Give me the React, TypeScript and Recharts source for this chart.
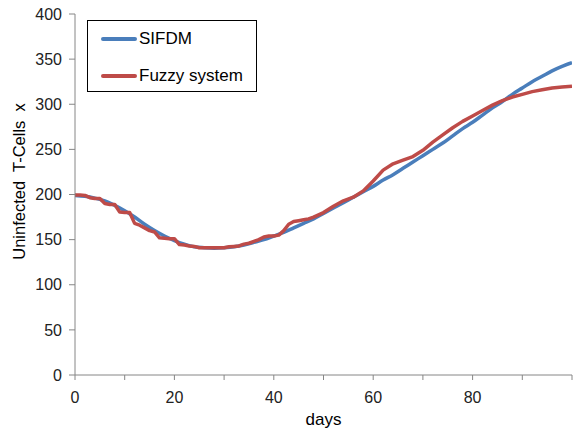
import React from 'react';
import { LineChart, Line, XAxis, YAxis, Legend } from 'recharts';

const sifdmDays = [0, 2, 4, 6, 8, 10, 12, 14, 16, 18, 20, 22, 24, 26, 28, 30, 32, 34, 36, 38, 40, 42, 44, 46, 48, 50, 52, 54, 56, 58, 60, 62, 64, 66, 68, 70, 72, 74, 76, 78, 80, 82, 84, 86, 88, 90, 92, 94, 96, 98, 100];
const sifdmValues = [199, 198, 196, 193, 188, 182, 175, 167, 160, 154, 149, 145, 142, 141, 140.5, 141, 142, 144, 147, 150, 154, 158, 163, 168, 173, 179, 185, 191, 197, 203, 209, 216, 222, 229, 236, 243, 250, 257, 265, 273, 280, 288, 296, 303, 311, 318, 325, 331, 337, 342, 346];

const fuzzyDays = [0, 1, 2, 3, 4, 5, 6, 7, 8, 9, 10, 11, 12, 13, 14, 15, 16, 17, 18, 19, 20, 21, 22, 23, 24, 25, 26, 27, 28, 29, 30, 31, 32, 33, 34, 35, 36, 37, 38, 39, 40, 41, 42, 43, 44, 45, 46, 47, 48, 50, 52, 54, 56, 58, 60, 62, 64, 66, 68, 70, 72, 74, 76, 78, 80, 82, 84, 86, 88, 90, 92, 94, 96, 98, 100];
const fuzzyValues = [199.5, 199.5, 199, 196.5, 195.5, 195.5, 190, 189, 189, 180.5, 180, 180, 168, 166, 163, 160, 158.5, 152, 151.5, 151, 151, 144.5, 144, 143, 142.5, 141, 141, 141, 141, 141, 141, 142, 142.5, 143, 145, 146, 148, 150, 153, 154, 154, 155, 160, 167, 170, 171, 172, 173, 175, 180, 187, 193, 197, 204, 215, 227, 234, 238, 242, 249, 258, 266, 274, 281, 287, 293, 299, 304, 308, 311, 314, 316, 318, 319, 320];

const xTicks = [0, 10, 20, 30, 40, 50, 60, 70, 80, 90, 100];
const xTickLabels = ['0', '', '20', '', '40', '', '60', '', '80', '', ''];
const yTicks = [0, 50, 100, 150, 200, 250, 300, 350, 400];

const seriesNames = ['SIFDM', 'Fuzzy system'];
const seriesColors = ['#4a7ebb', '#be4b48'];

const sifdmData = sifdmDays.map((d, i) => ({ day: d, value: sifdmValues[i] }));
const fuzzyData = fuzzyDays.map((d, i) => ({ day: d, value: fuzzyValues[i] }));

const FONT = '"Liberation Sans", Arial, sans-serif';

const renderLegend = () => (
  <div
    style={{
      width: 168,
      height: 70,
      border: '1px solid #000',
      background: '#fff',
      boxSizing: 'content-box',
      fontFamily: FONT,
      fontSize: 17,
      color: '#000',
      position: 'relative',
    }}
  >
    {seriesNames.map((n, i) => (
      <div
        key={n}
        style={{ position: 'absolute', left: 13, top: i === 0 ? 8 : 45, display: 'flex', alignItems: 'center', height: 20 }}
      >
        <div style={{ width: 36, height: 4, background: seriesColors[i], borderRadius: 2 }} />
        <span style={{ marginLeft: 2 }}>{n}</span>
      </div>
    ))}
  </div>
);

const YLabel = (props: any) => {
  const { viewBox } = props;
  const cx = 19;
  const cy = viewBox.y + viewBox.height / 2 - 13;
  return (
    <text
      x={cx}
      y={cy}
      transform={`rotate(-90, ${cx}, ${cy})`}
      textAnchor="middle"
      dominantBaseline="central"
      fontFamily={FONT}
      fontSize={16.5}
      fill="#000"
      style={{ whiteSpace: 'pre' }}
    >
      {'Uninfected  T-Cells  x'}
    </text>
  );
};

export default function App() {
  return (
    <div style={{ position: 'absolute', left: 0, top: 0, width: 576, height: 433, background: '#fff' }}>
      <LineChart width={576} height={433} margin={{ top: 14, right: 4, bottom: 16, left: 28 }}>
        <XAxis
          type="number"
          dataKey="day"
          domain={[0, 100]}
          ticks={xTicks}
          tickFormatter={(v: number) => xTickLabels[xTicks.indexOf(v)] ?? ''}
          interval={0}
          allowDataOverflow
          stroke="#868686"
          tickSize={5}
          tickMargin={12}
          height={42}
          tick={{ fill: '#222', fontFamily: FONT, fontSize: 16 }}
          label={{ value: 'days', position: 'insideBottom', offset: -8, fill: '#000', fontFamily: FONT, fontSize: 17 }}
        />
        <YAxis
          type="number"
          domain={[0, 400]}
          ticks={yTicks}
          interval={0}
          stroke="#868686"
          tickSize={6}
          tickMargin={7}
          width={47}
          tick={{ fill: '#222', fontFamily: FONT, fontSize: 16 }}
          label={<YLabel />}
        />
        <Legend
          layout="horizontal"
          verticalAlign="middle"
          align="center"
          content={renderLegend}
          wrapperStyle={{ left: 87, top: 20, width: 170, height: 72 }}
        />
        <Line
          data={sifdmData}
          dataKey="value"
          name={seriesNames[0]}
          type="monotone"
          stroke={seriesColors[0]}
          strokeWidth={3.5}
          dot={false}
          isAnimationActive={false}
        />
        <Line
          data={fuzzyData}
          dataKey="value"
          name={seriesNames[1]}
          type="linear"
          stroke={seriesColors[1]}
          strokeWidth={3.5}
          strokeLinejoin="round"
          dot={false}
          isAnimationActive={false}
        />
      </LineChart>
    </div>
  );
}
